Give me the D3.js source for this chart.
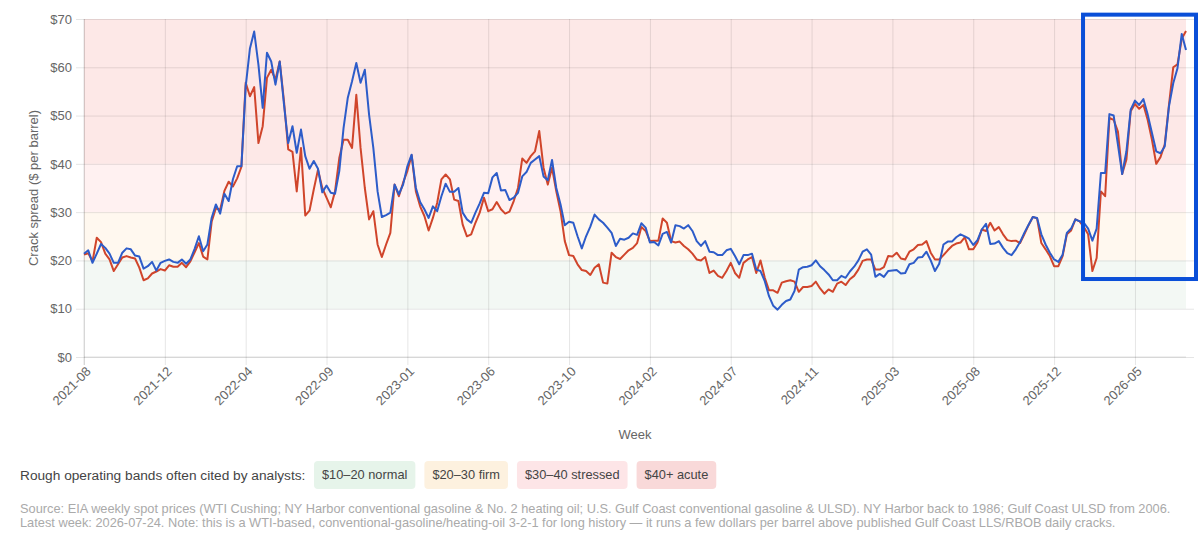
<!DOCTYPE html>
<html>
<head>
<meta charset="utf-8">
<script src="https://cdn.jsdelivr.net/npm/d3@7"></script>
<style>
  body { margin: 0; background: #fff; font-family: "Liberation Sans", Arial, sans-serif; }
  svg { display: block; }
</style>
</head>
<body>
<div id="chart"></div>
<script>
// weekly 3-2-1 crack spreads, $/bbl, 2021-08-06 .. 2026-07-24
const nyHarbor = [
  21.2, 21.5, 19.8, 24.7, 23.8, 21.4, 20.2, 17.8, 19.2, 20.6,
  20.9, 20.6, 20.4, 18.5, 15.9, 16.3, 17.3, 17.7, 18.2, 17.9,
  19.0, 18.7, 18.7, 19.5, 18.6, 19.8, 21.7, 23.6, 20.8, 20.2,
  28.0, 30.8, 30.5, 34.4, 36.3, 35.3, 37.0, 39.4, 56.8, 54.0,
  55.9, 44.3, 47.8, 57.8, 59.5, 57.4, 61.2, 53.0, 43.0, 42.5,
  34.3, 43.3, 29.3, 30.3, 34.7, 38.8, 35.0, 33.0, 31.0, 34.3,
  41.2, 45.0, 45.0, 43.3, 54.3, 43.3, 35.0, 28.5, 30.2, 23.3,
  20.7, 23.3, 25.7, 35.7, 33.3, 36.1, 38.5, 41.8, 34.3, 31.2,
  29.2, 26.2, 28.8, 31.9, 36.8, 37.8, 36.8, 32.6, 32.3, 27.4,
  25.0, 25.4, 27.8, 29.9, 33.0, 30.2, 30.6, 32.1, 30.6, 29.7,
  30.1, 32.3, 35.0, 41.1, 40.2, 41.6, 42.6, 46.8, 39.2, 35.7,
  39.2, 34.3, 30.2, 24.0, 21.1, 20.9, 19.2, 18.0, 17.8, 17.0,
  18.5, 19.2, 15.4, 15.2, 21.6, 20.7, 20.3, 21.2, 22.1, 22.6,
  23.6, 26.9, 26.1, 24.0, 24.1, 24.1, 28.7, 27.8, 24.0, 23.7,
  23.9, 23.0, 22.3, 21.4, 20.2, 20.0, 20.7, 17.4, 17.9, 16.8,
  16.4, 17.8, 19.5, 17.4, 16.4, 19.5, 20.2, 20.7, 17.4, 20.0,
  16.4, 13.8, 13.8, 13.3, 15.4, 15.7, 15.9, 15.6, 13.5, 14.5,
  14.5, 14.7, 15.6, 14.2, 13.1, 14.0, 13.5, 15.2, 15.6, 14.9,
  16.1, 16.8, 18.1, 19.9, 20.2, 20.2, 18.1, 18.1, 18.6, 20.9,
  20.8, 21.6, 20.4, 20.2, 21.8, 22.3, 23.2, 23.3, 24.0, 21.6,
  20.2, 20.2, 21.1, 22.1, 23.0, 23.5, 23.7, 24.8, 22.3, 22.3,
  23.7, 26.4, 26.1, 27.8, 26.2, 26.9, 25.4, 24.2, 24.0, 24.1,
  23.6, 25.4, 27.3, 29.0, 28.7, 23.6, 22.3, 20.9, 18.8, 18.8,
  20.9, 25.4, 26.2, 28.5, 28.1, 26.9, 25.4, 17.8, 20.5, 34.3,
  33.3, 49.5, 49.1, 46.7, 37.9, 40.9, 50.9, 52.4, 51.4, 52.2,
  49.1, 45.0, 40.0, 41.4, 44.0, 52.2, 60.0, 60.6, 65.9, 67.5
];

const gulfCoast = [
  21.4, 22.1, 19.5, 21.4, 23.4, 22.6, 21.4, 19.5, 19.5, 21.6,
  22.5, 22.3, 21.0, 20.8, 18.3, 18.8, 19.7, 17.9, 19.5, 19.9,
  20.2, 19.7, 19.5, 20.2, 19.3, 20.2, 22.4, 25.0, 21.9, 23.3,
  28.8, 31.6, 29.7, 33.8, 32.3, 36.8, 39.5, 39.5, 56.0, 63.9,
  67.4, 60.5, 51.6, 63.0, 61.2, 56.4, 61.2, 52.3, 44.3, 47.8,
  42.3, 47.1, 41.6, 39.0, 40.6, 39.0, 34.1, 35.5, 34.0, 33.8,
  38.5, 47.4, 53.7, 57.1, 60.9, 56.8, 59.5, 50.2, 43.3, 34.3,
  29.0, 29.4, 29.9, 35.7, 33.7, 35.7, 39.5, 41.9, 35.0, 32.1,
  30.6, 28.8, 31.2, 30.2, 33.3, 35.9, 34.2, 34.2, 35.0, 29.9,
  28.5, 27.8, 29.9, 31.8, 34.0, 33.9, 37.2, 38.1, 34.5, 34.6,
  32.5, 33.0, 34.0, 37.4, 38.3, 40.2, 40.9, 41.6, 37.4, 36.6,
  40.8, 35.0, 31.6, 27.3, 28.0, 27.8, 25.0, 22.5, 25.0, 27.0,
  29.5, 28.5, 27.8, 26.8, 25.7, 23.0, 24.5, 24.3, 24.7, 25.6,
  25.3, 27.7, 26.8, 23.7, 23.8, 23.1, 25.5, 25.9, 23.7, 27.3,
  27.1, 26.6, 27.3, 26.1, 24.0, 23.0, 24.0, 21.8, 21.7, 21.1,
  21.1, 22.1, 22.4, 20.9, 19.2, 21.1, 21.1, 21.4, 18.1, 17.8,
  15.7, 12.6, 10.6, 9.8, 10.8, 11.6, 11.9, 13.7, 18.1, 18.6,
  18.7, 19.0, 20.0, 18.8, 18.0, 17.1, 15.9, 15.9, 16.8, 16.4,
  17.7, 18.7, 20.0, 21.8, 22.3, 21.2, 16.6, 17.2, 16.6, 17.8,
  17.9, 18.0, 17.3, 17.4, 19.2, 19.5, 20.6, 20.7, 21.8, 20.0,
  17.8, 19.3, 23.3, 23.9, 23.9, 24.8, 25.4, 25.0, 24.5, 23.2,
  24.2, 26.4, 27.6, 23.4, 23.5, 24.0, 22.6, 21.5, 21.1, 22.3,
  23.8, 25.7, 27.4, 29.0, 28.8, 25.4, 23.3, 21.6, 20.2, 19.7,
  21.2, 25.7, 26.6, 28.5, 28.1, 27.8, 26.6, 24.1, 26.6, 38.1,
  38.1, 50.3, 50.0, 44.0, 37.9, 42.6, 51.2, 53.1, 52.2, 53.4,
  50.2, 46.4, 42.6, 42.2, 43.6, 51.9, 56.7, 59.8, 66.9, 63.6
];

// category labels shown every 19th week
const tickLabels = ["2021-08", "2021-12", "2022-04", "2022-09", "2023-01", "2023-06", "2023-10",
  "2024-02", "2024-07", "2024-11", "2025-03", "2025-08", "2025-12", "2026-05"];
const tickEvery = 19;

const yTicks = [0, 10, 20, 30, 40, 50, 60, 70];

// analyst bands
const bandLow = [10, 20, 30, 40];
const bandHigh = [20, 30, 40, 70];
const bandLabels = ["$10\u201320 normal", "$20\u201330 firm", "$30\u201340 stressed", "$40+ acute"];

// highlighted recent stretch (week index / $ range)
const highlightFrom = 234.8;
const highlightTop = 70.9;
const highlightBottom = 16.15;

const bandFill = ["#f3f8f4", "#fff8ef", "#fff1f1", "#fde8e7"];
const badgeFill = ["#e6f4ea", "#fdf1df", "#fde5e7", "#f9d9d9"];

const width = 1200, height = 535;
const margin = { top: 19, right: 14, bottom: 178, left: 84 };

const svg = d3.select("#chart").append("svg")
    .attr("width", width)
    .attr("height", height);

const x = d3.scaleLinear()
    .domain([0, nyHarbor.length - 1])
    .range([margin.left, width - margin.right]);

const y = d3.scaleLinear()
    .domain([0, 70])
    .range([height - margin.bottom, margin.top]);

const x0 = x.range()[0], x1 = x.range()[1];

// background bands
svg.append("g").selectAll("rect")
    .data(bandLow)
    .enter().append("rect")
    .attr("x", x0)
    .attr("width", x1 - x0)
    .attr("y", (d, i) => y(bandHigh[i]))
    .attr("height", (d, i) => y(d) - y(bandHigh[i]))
    .attr("fill", (d, i) => bandFill[i]);

// y axis + horizontal grid
const yAxis = d3.axisLeft(y)
    .tickValues(yTicks)
    .tickSize(-(x1 - x0 + 8))
    .tickFormat(d => "$" + d);

svg.append("g")
    .attr("transform", `translate(${x0 - 8},0)`)
    .call(yAxis)
    .call(g => g.select(".domain").remove())
    .call(g => g.selectAll(".tick line")
        .attr("transform", "translate(8,0)")
        .attr("x1", -8)
        .attr("stroke", "rgba(0,0,0,0.1)"))
    .call(g => g.selectAll(".tick text")
        .attr("x", -4)
        .attr("fill", "#666")
        .attr("font-size", 13)
        .attr("font-family", "Liberation Sans, Arial, sans-serif"));

// x axis + vertical grid
const tickIdx = tickLabels.map((d, i) => i * tickEvery);
const xAxis = d3.axisBottom(x)
    .tickValues(tickIdx)
    .tickSize(-(y(0) - y(70)) - 8)
    .tickFormat((d, i) => tickLabels[i]);

svg.append("g")
    .attr("transform", `translate(0,${y(0) + 8})`)
    .call(xAxis)
    .call(g => g.select(".domain").remove())
    .call(g => g.selectAll(".tick line").attr("stroke", "rgba(0,0,0,0.1)"))
    .call(g => g.selectAll(".tick text")
        .attr("fill", "#666")
        .attr("font-size", 13)
        .attr("font-family", "Liberation Sans, Arial, sans-serif")
        .attr("text-anchor", "end")
        .attr("transform", "translate(4,4) rotate(-45)")
        .attr("dy", "0.35em")
        .attr("y", 0));

// baseline a touch darker, like the chart's axis border
svg.append("line")
    .attr("x1", x0).attr("x2", x1)
    .attr("y1", y(0)).attr("y2", y(0))
    .attr("stroke", "rgba(0,0,0,0.12)");
svg.append("line")
    .attr("x1", x0).attr("x2", x0)
    .attr("y1", y(70)).attr("y2", y(0) + 8)
    .attr("stroke", "rgba(0,0,0,0.12)");

// lines
const line = d3.line()
    .x((d, i) => x(i))
    .y(d => y(d));

svg.append("path")
    .datum(nyHarbor)
    .attr("fill", "none")
    .attr("stroke", "#d0452b")
    .attr("stroke-width", 2)
    .attr("stroke-linejoin", "round")
    .attr("d", line);

svg.append("path")
    .datum(gulfCoast)
    .attr("fill", "none")
    .attr("stroke", "#2d5cc9")
    .attr("stroke-width", 2)
    .attr("stroke-linejoin", "round")
    .attr("d", line);

// axis titles
svg.append("text")
    .attr("transform", `translate(33,${(y(0) + y(70)) / 2}) rotate(-90)`)
    .attr("text-anchor", "middle")
    .attr("dy", "0.35em")
    .attr("fill", "#666")
    .attr("font-size", 13)
    .text("Crack spread ($ per barrel)");

svg.append("text")
    .attr("x", (x0 + x1) / 2)
    .attr("y", 439)
    .attr("text-anchor", "middle")
    .attr("fill", "#666")
    .attr("font-size", 13)
    .text("Week");

// band legend
const legend = svg.append("g").attr("transform", "translate(20,475)");
legend.append("text")
    .attr("dy", "0.35em")
    .attr("fill", "#444")
    .attr("font-size", 13.7)
    .text("Rough operating bands often cited by analysts:");

let bx = 294;
bandLabels.forEach((label, i) => {
    const g = legend.append("g").attr("transform", `translate(${bx},0)`);
    const t = g.append("text")
        .attr("x", 8)
        .attr("dy", "0.35em")
        .attr("fill", "#444")
        .attr("font-size", 12.8)
        .text(label);
    const w = t.node().getComputedTextLength() + 16;
    g.insert("rect", "text")
        .attr("y", -14)
        .attr("width", w)
        .attr("height", 28)
        .attr("rx", 4)
        .attr("fill", badgeFill[i]);
    bx += w + 9;
});

// source note
const note = svg.append("text")
    .attr("x", 20)
    .attr("fill", "#aaa")
    .attr("font-size", 12.8);
note.append("tspan")
    .attr("x", 20).attr("y", 513)
    .text("Source: EIA weekly spot prices (WTI Cushing; NY Harbor conventional gasoline & No. 2 heating oil; U.S. Gulf Coast conventional gasoline & ULSD). NY Harbor back to 1986; Gulf Coast ULSD from 2006.");
note.append("tspan")
    .attr("x", 20).attr("y", 527)
    .text("Latest week: 2026-07-24. Note: this is a WTI-based, conventional-gasoline/heating-oil 3-2-1 for long history \u2014 it runs a few dollars per barrel above published Gulf Coast LLS/RBOB daily cracks.");

// highlight box over the latest run-up
svg.append("rect")
    .attr("x", x(highlightFrom))
    .attr("y", y(highlightTop))
    .attr("width", width - 4 - x(highlightFrom))
    .attr("height", y(highlightBottom) - y(highlightTop))
    .attr("fill", "none")
    .attr("stroke", "#0a4fd8")
    .attr("stroke-width", 4);
</script>
</body>
</html>
